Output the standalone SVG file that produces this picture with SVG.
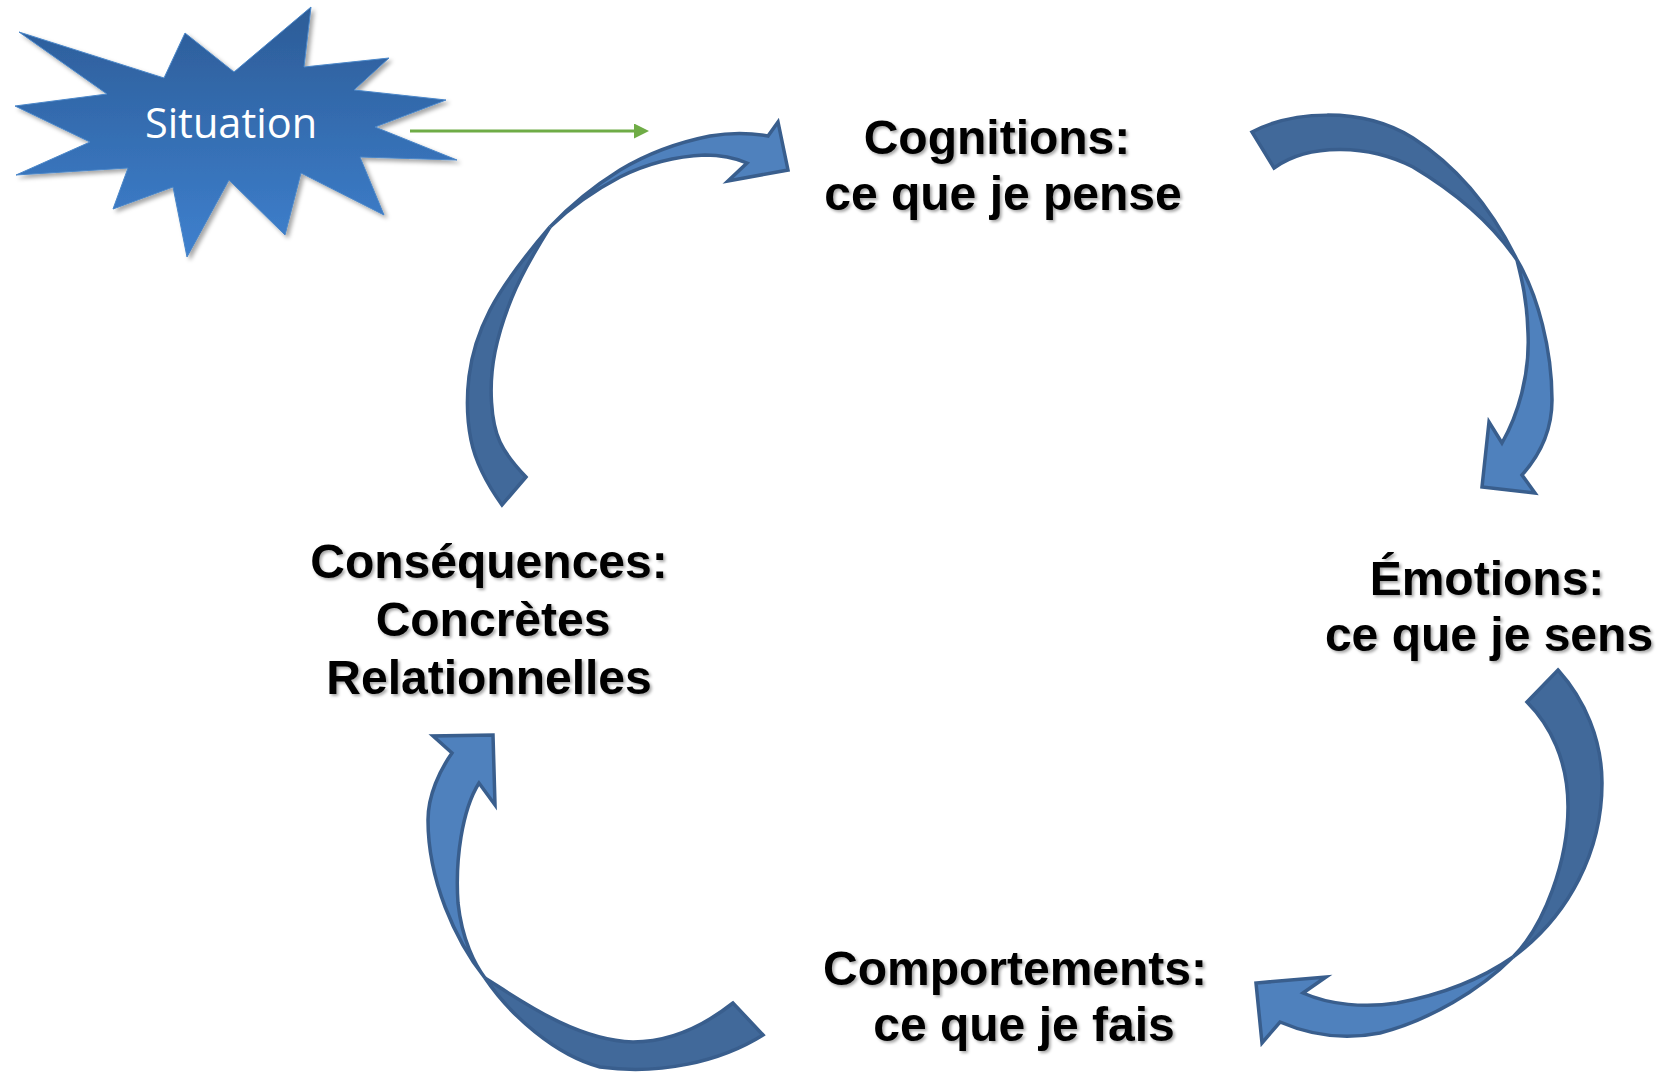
<svg xmlns="http://www.w3.org/2000/svg" width="1660" height="1074" viewBox="0 0 1660 1074">
<defs>
<linearGradient id="starGrad" x1="0" y1="0" x2="0" y2="1">
<stop offset="0" stop-color="#2C5C97"/>
<stop offset="1" stop-color="#3E80CE"/>
</linearGradient>
<filter id="starShadow" x="-10%" y="-10%" width="125%" height="125%">
<feDropShadow dx="3" dy="3" stdDeviation="2" flood-color="#000" flood-opacity="0.35"/>
</filter>
<filter id="textShadow" x="-5%" y="-20%" width="115%" height="150%">
<feDropShadow dx="2" dy="2" stdDeviation="1.5" flood-color="#000" flood-opacity="0.35"/>
</filter>
<marker id="greenHead" viewBox="0 0 10 10" refX="0" refY="5" markerWidth="6" markerHeight="5" markerUnits="strokeWidth" orient="auto">
<path d="M0,0 L10,5 L0,10 Z" fill="#6FAC46"/>
</marker>
</defs>
<style>
.label { font-family: "Liberation Sans", Arial, sans-serif; font-weight: bold; font-size: 48px; fill: #000; text-anchor: middle; filter: url(#textShadow); }
.sit { font-family: "Open Sans", "Noto Sans", "Liberation Sans", sans-serif; font-size: 41.5px; fill: #fff; text-anchor: middle; }
.back { fill: #41699A; stroke: #395E8D; stroke-width: 3.5; stroke-linejoin: miter; }
.front { fill: #4F81BD; stroke: #395E8D; stroke-width: 3.5; stroke-linejoin: miter; }
</style>
<rect width="1660" height="1074" fill="#fff"/>

<g id="node-situation">
<polygon points="19,32 164,78 185,33 234,72 311,7 304,67 389,58 354,90 446,100 375,127 457,160 360,157 384,215 301,173 285,235 229,180 187,257 173,187 113,209 128,168 16,175 90,142 15,106 107,94" fill="url(#starGrad)" stroke="#4A86C8" stroke-width="1" filter="url(#starShadow)"/>
<text class="sit" x="231" y="138">Situation</text>
</g>

<g id="node-cognitions">
<text class="label" x="997" y="154">Cognitions:</text>
<text class="label" x="1003" y="210">ce que je pense</text>
</g>

<g id="node-emotions">
<text class="label" x="1487" y="595">Émotions:</text>
<text class="label" x="1489" y="651">ce que je sens</text>
</g>

<g id="node-comportements">
<text class="label" x="1015" y="985">Comportements:</text>
<text class="label" x="1024" y="1041">ce que je fais</text>
</g>

<g id="node-consequences">
<text class="label" x="489" y="578">Conséquences:</text>
<text class="label" x="493" y="636">Concrètes</text>
<text class="label" x="489" y="694">Relationnelles</text>
</g>

<g id="connectors">
<line x1="410" y1="131" x2="634" y2="131" stroke="#6FAC46" stroke-width="3" marker-end="url(#greenHead)"/>

<g id="arrow-consequences-cognitions">
<path class="back" d="M502,505 Q477,470 471,440 Q465,410 469,376.5 Q473,343 490,310 Q507,277 550,227 Q523,270 511.5,298.5 Q500,327 495,352 Q490,377 491.5,402 Q493,427 500,442 Q507,457 526,477 Z"/>
<path class="front" d="M550,227 Q580,195 620,170 Q660,146 710,136 Q740,131 768,136 L778,122 L788,170 L728,181 L747,163 Q728,155 705,155 Q660,157 620,177 Q580,198 550,227 Z"/>
</g>

<g id="arrow-cognitions-emotions">
<path class="back" d="M1252,132 C1290,112 1360,105 1413,138 C1455,165 1490,205 1517,260 C1495,228 1460,195 1413,167 C1370,145 1310,142 1274,168 Z"/>
<path class="front" d="M1517,260 C1538,295 1552,350 1552,400 C1552,430 1540,455 1522,475 L1535,493 L1482,487 L1489,422 L1502,443 C1518,415 1530,375 1528,333 C1527,300 1522,280 1517,260 Z"/>
</g>

<g id="arrow-emotions-comportements">
<path class="back" d="M1558,670 C1585,700 1602,740 1602,783 C1602,850 1570,915 1513,957 C1545,925 1568,860 1568,807 C1568,760 1550,725 1527,702 Z"/>
<path class="front" d="M1513,957 C1480,990 1430,1020 1380,1033 C1345,1040 1310,1035 1280,1022 L1262,1043 L1256,983 L1326,977 L1303,993 C1330,1005 1365,1008 1397,1003 C1440,995 1480,980 1513,957 Z"/>
</g>

<g id="arrow-comportements-consequences">
<path class="back" d="M763,1035 C720,1062 660,1075 600,1067 C555,1055 510,1015 485,978 C520,1000 575,1040 633,1042 C670,1042 705,1025 733,1003 Z"/>
<path class="front" d="M485,978 C455,940 428,880 428,820 C428,795 440,770 452,753 L433,736 L493,735 L495,805 L479,783 C462,810 455,860 458,903 C462,940 475,965 485,978 Z"/>
</g>
</g>
</svg>
